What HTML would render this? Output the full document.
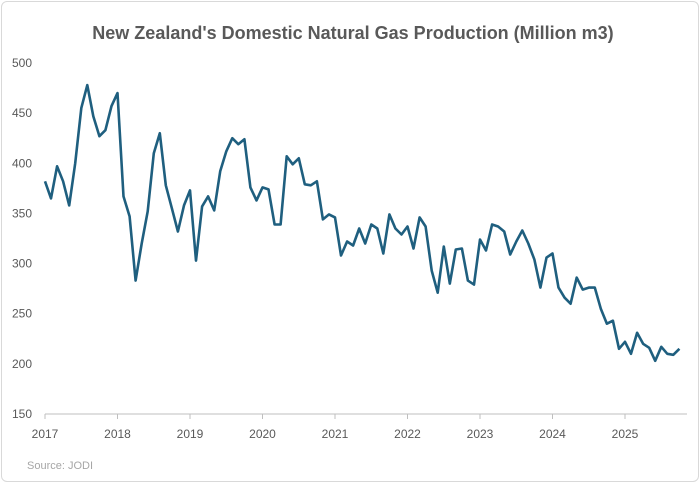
<!DOCTYPE html>
<html><head><meta charset="utf-8"><style>
body{margin:0;background:#fff;font-family:"Liberation Sans",sans-serif;}
#card{position:absolute;left:1px;top:1px;width:696px;height:479px;border:1px solid #d9d9d9;border-radius:6px;background:#fff;}
</style></head><body>
<div id="card">
<svg id="chart" width="700" height="483" style="position:absolute;left:-1px;top:-1px">
<text x="352" y="38" text-anchor="middle" font-size="18" font-weight="bold" fill="#595959">New Zealand's Domestic Natural Gas Production (Million m3)</text>
<text x="26" y="468" font-size="11" fill="#a6a6a6">Source: JODI</text>
<g id="yaxis"></g><g id="xaxis"></g><g id="plot"></g>
</svg></div>
<script>
const yTicks=[150,200,250,300,350,400,450,500];
const xYears=[2017,2018,2019,2020,2021,2022,2023,2024,2025];
const values=[382,365,397,382,358,400,455,478,447,427,433,457,
470,367,347,283,320,352,410,430,378,355,332,358,
373,303,357,367,353,392,412,425,419,424,376,363,
376,374,339,339,407,399,405,379,378,382,344,349,
346,308,322,318,335,320,339,335,310,349,335,329,
337,315,346,337,293,271,317,280,314,315,283,279,
324,313,339,337,332,309,322,333,320,304,276,306,
310,276,266,260,286,274,276,276,255,240,243,215,
222,210,231,220,216,203,217,210,209,215];
const NS="http://www.w3.org/2000/svg";
const x0=44,pxMonth=72.5/12;
const yS=v=>413-(v-150)*351/350;
const xS=i=>x0+i*pxMonth;
const ya=document.getElementById('yaxis'),xa=document.getElementById('xaxis'),pl=document.getElementById('plot');
yTicks.forEach(t=>{const e=document.createElementNS(NS,'text');


e.setAttribute('x',31);e.setAttribute('y',yS(t)+4);e.setAttribute('text-anchor','end');e.setAttribute('font-size','12');e.setAttribute('fill','#595959');e.textContent=t;ya.appendChild(e);});
const ax=document.createElementNS(NS,'line');


ax.setAttribute('x1',x0);ax.setAttribute('x2',686);ax.setAttribute('y1',413);ax.setAttribute('y2',413);ax.setAttribute('stroke','#bfbfbf');xa.appendChild(ax);
xYears.forEach((yr,k)=>{const px=xS(k*12);
const tk=document.createElementNS(NS,'line');


tk.setAttribute('x1',px);tk.setAttribute('x2',px);tk.setAttribute('y1',413);tk.setAttribute('y2',418);tk.setAttribute('stroke','#bfbfbf');xa.appendChild(tk);
const e=document.createElementNS(NS,'text');


e.setAttribute('x',px);e.setAttribute('y',437);e.setAttribute('text-anchor','middle');e.setAttribute('font-size','12');e.setAttribute('fill','#595959');e.textContent=yr;xa.appendChild(e);});
const p=document.createElementNS(NS,'polyline');


p.setAttribute('points',values.map((v,i)=>xS(i).toFixed(1)+','+yS(v).toFixed(1)).join(' '));
p.setAttribute('fill','none');p.setAttribute('stroke','#1f5f7f');p.setAttribute('stroke-width','2.6');p.setAttribute('stroke-linejoin','round');
pl.appendChild(p);
</script>
</body></html>
